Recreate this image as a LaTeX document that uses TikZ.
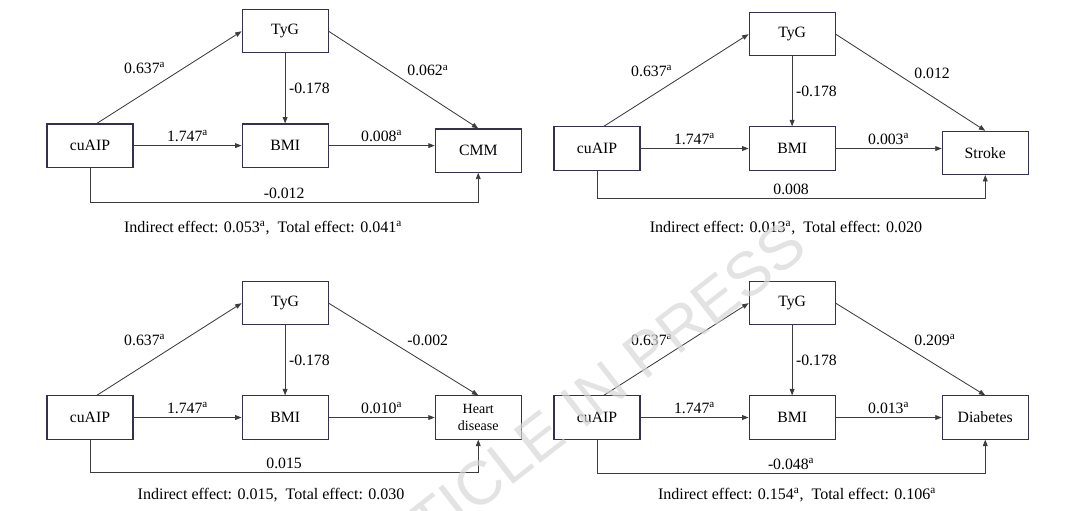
\documentclass[tikz,border=0pt]{standalone}
\usepackage{fontspec}
\setmainfont{Liberation Serif}
\newfontfamily\wmfont{Liberation Sans}
\usetikzlibrary{arrows.meta,positioning}
\definecolor{boxline}{RGB}{50,50,80}
\definecolor{linegray}{RGB}{60,60,60}
\definecolor{wmgray}{RGB}{215,215,215}

\begin{document}
\begin{tikzpicture}[
  box/.style={draw=boxline, line width=0.8pt, minimum width=2.15cm, minimum height=1.08cm,
              inner sep=2pt, align=center, font=\fontsize{11.2}{13}\selectfont},
  lab/.style={font=\fontsize{11.2}{13}\selectfont, inner sep=2.5pt},
  effect/.style={font=\fontsize{11.4}{13}\selectfont},
  arr/.style={-{Triangle[length=1.6mm,width=1.2mm]}, draw=linegray, line width=0.6pt}]
  \useasboundingbox (0,0) rectangle (27,-12.75);

  % CMM
  \node[box] (c1) at (2.25,-3.64) {cuAIP};
  \node[box, right=2.7cm of c1] (b1) {BMI};
  \node[box, above=1.75cm of b1] (t1) {TyG};
  \node[box, right=2.65cm of b1, yshift=-1.25mm] (o1) {CMM};
  \draw[arr] ([xshift=1.7mm]c1.north) -- node[lab, above left] {0.637\textsuperscript{a}} (t1.west);
  \draw[arr] (t1.east) -- node[lab, above right] {0.062\textsuperscript{a}} (o1.north);
  \draw[arr] (t1) -- node[lab, right] {-0.178} (b1);
  \draw[arr] (c1) -- node[lab, above] {1.747\textsuperscript{a}} (b1);
  \draw[arr] (b1.east) -- node[lab, above] {0.008\textsuperscript{a}} (b1.east -| o1.west);
  \draw[arr] (c1.south) -- ++(0,-0.875) -| node[lab, pos=0.25, above] {-0.012} (o1.south);
  \node[effect] (e1) at (6.575,-5.7) {Indirect effect: 0.053\textsuperscript{a},~ Total effect: 0.041\textsuperscript{a}};

  % Stroke
  \node[box] (c2) at (14.925,-3.7125) {cuAIP};
  \node[box, right=2.7cm of c2] (b2) {BMI};
  \node[box, above=1.75cm of b2] (t2) {TyG};
  \node[box, right=2.65cm of b2, yshift=-1.1mm] (o2) {Stroke};
  \draw[arr] ([xshift=1.7mm]c2.north) -- node[lab, above left] {0.637\textsuperscript{a}} (t2.west);
  \draw[arr] (t2.east) -- node[lab, above right] {0.012} (o2.north);
  \draw[arr] (t2) -- node[lab, right] {-0.178} (b2);
  \draw[arr] (c2) -- node[lab, above] {1.747\textsuperscript{a}} (b2);
  \draw[arr] (b2.east) -- node[lab, above] {0.003\textsuperscript{a}} (b2.east -| o2.west);
  \draw[arr] (c2.south) -- ++(0,-0.7) -| node[lab, pos=0.25, above] {0.008} (o2.south);
  \node[effect] (e2) at (19.65,-5.7) {Indirect effect: 0.013\textsuperscript{a},~ Total effect: 0.020};

  % Heart disease
  \node[box] (c3) at (2.25,-10.4375) {cuAIP};
  \node[box, right=2.7cm of c3] (b3) {BMI};
  \node[box, above=1.75cm of b3] (t3) {TyG};
  \node[box, right=2.65cm of b3, font=\fontsize{10}{11.5}\selectfont] (o3) {Heart\\disease};
  \draw[arr] ([xshift=1.7mm]c3.north) -- node[lab, above left] {0.637\textsuperscript{a}} (t3.west);
  \draw[arr] (t3.east) -- node[lab, above right] {-0.002} (o3.north);
  \draw[arr] (t3) -- node[lab, right] {-0.178} (b3);
  \draw[arr] (c3) -- node[lab, above] {1.747\textsuperscript{a}} (b3);
  \draw[arr] (b3) -- node[lab, above] {0.010\textsuperscript{a}} (o3);
  \draw[arr] (c3.south) -- ++(0,-0.825) -| node[lab, pos=0.25, above] {0.015} (o3.south);
  \node[effect] (e3) at (6.775,-12.375) {Indirect effect: 0.015,~ Total effect: 0.030};

  % Diabetes
  \node[box] (c4) at (14.925,-10.4375) {cuAIP};
  \node[box, right=2.7cm of c4] (b4) {BMI};
  \node[box, above=1.75cm of b4] (t4) {TyG};
  \node[box, right=2.65cm of b4] (o4) {Diabetes};
  \draw[arr] ([xshift=1.7mm]c4.north) -- node[lab, above left] {0.637\textsuperscript{a}} (t4.west);
  \draw[arr] (t4.east) -- node[lab, above right] {0.209\textsuperscript{a}} (o4.north);
  \draw[arr] (t4) -- node[lab, right] {-0.178} (b4);
  \draw[arr] (c4) -- node[lab, above] {1.747\textsuperscript{a}} (b4);
  \draw[arr] (b4) -- node[lab, above] {0.013\textsuperscript{a}} (o4);
  \draw[arr] (c4.south) -- ++(0,-0.85) -| node[lab, pos=0.25, above] {-0.048\textsuperscript{a}} (o4.south);
  \node[effect] (e4) at (19.925,-12.375) {Indirect effect: 0.154\textsuperscript{a},~ Total effect: 0.106\textsuperscript{a}};

  % watermark
  \node[font=\wmfont\fontsize{44}{44}\selectfont, text=wmgray, text opacity=0.7, rotate=38] (wm)
    at (14.35,-10.25) {ARTICLE IN PRESS};
\end{tikzpicture}
\end{document}
